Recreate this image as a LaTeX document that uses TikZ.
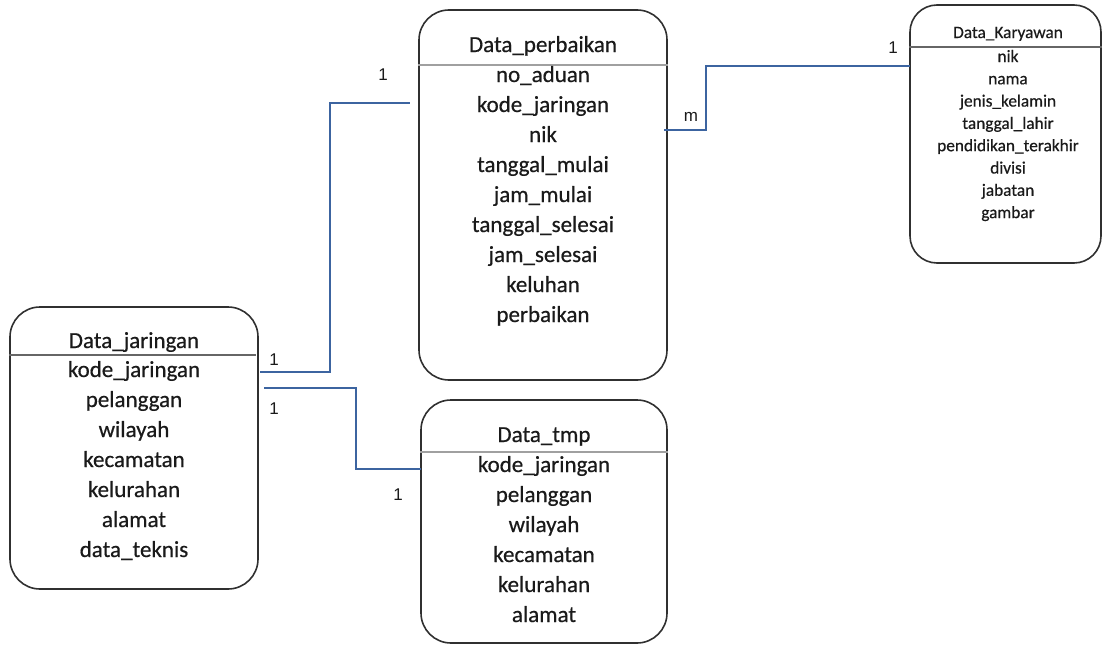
\documentclass[tikz,border=0pt]{standalone}
\usepackage{fontspec}
\setmainfont{Carlito}[FakeBold=0.5]
\newfontfamily\arialfont{Liberation Sans}
\definecolor{boxline}{HTML}{303030}
\definecolor{sepline}{HTML}{A0A0A0}
\definecolor{connblue}{HTML}{3C64A0}
\definecolor{txt}{HTML}{1A1A1A}
\begin{document}
\begin{tikzpicture}[x=1pt,y=-1pt,
  entity/.style={draw=boxline, line width=1.6pt, rounded corners=30pt, inner sep=0pt},
  sepl/.style={draw=sepline, line width=1.5pt},
  bigtxt/.style={font=\fontsize{23}{27}\selectfont, text=txt, inner sep=0pt, anchor=base},
  smalltxt/.style={font=\fontsize{17.3}{20}\selectfont, text=txt, inner sep=0pt, anchor=base},
  conn/.style={draw=connblue, line width=1.2pt},
  card/.style={font=\arialfont\fontsize{17}{20}\selectfont, text=txt, inner sep=0pt, anchor=center}]
\useasboundingbox (0,0) rectangle (1102,645);

% entity boxes
\node[entity, minimum width=248pt, minimum height=370pt] (perb) at (543,195) {};
\node[entity, minimum width=246pt, minimum height=243pt] (tmp) at (544,521.5) {};
\node[entity, minimum width=248pt, minimum height=282pt] (jar) at (134,448) {};
\node[entity, rounded corners=27pt, minimum width=191pt, minimum height=258pt] (kar) at (1005.5,134) {};

% header separators
\draw[sepl] (perb.west |- 0,65) -- (perb.east |- 0,65);
\draw[sepl] (tmp.west |- 0,452) -- (tmp.east |- 0,452);
\draw[sepl, draw=black!60] (jar.west |- 0,355) -- ([xshift=-3pt]jar.east |- 0,355);
\draw[sepl, draw=black!60] (kar.west |- 0,47) -- (kar.east |- 0,47);

% Data_perbaikan
\node[bigtxt] (perbT) at (543,52) {Data\_perbaikan};
\foreach \t [count=\i] in {no\_aduan, kode\_jaringan, nik, tanggal\_mulai, jam\_mulai, tanggal\_selesai, jam\_selesai, keluhan, perbaikan}
  \node[bigtxt] (perb\i) at (543,52+30*\i) {\t};

% Data_tmp
\node[bigtxt] (tmpT) at (544,442) {Data\_tmp};
\foreach \t [count=\i] in {kode\_jaringan, pelanggan, wilayah, kecamatan, kelurahan, alamat}
  \node[bigtxt] (tmp\i) at (544,442+30*\i) {\t};

% Data_jaringan
\node[bigtxt] (jarT) at (134,348) {Data\_jaringan};
\foreach \t [count=\i] in {kode\_jaringan, pelanggan, wilayah, kecamatan, kelurahan, alamat, data\_teknis}
  \node[bigtxt] (jar\i) at (134,347+30*\i) {\t};

% Data_Karyawan
\node[smalltxt] (karT) at (1008,38) {Data\_Karyawan};
\foreach \t [count=\i] in {nik, nama, jenis\_kelamin, tanggal\_lahir, pendidikan\_terakhir, divisi, jabatan, gambar}
  \node[smalltxt] (kar\i) at (1008,39.7+22.3*\i) {\t};

% connectors
\coordinate (a1) at (260,372);
\coordinate (a2) at (410,103);
\draw[conn] (a1) -- (330,372) -- (330,103) -- (a2);
\coordinate (b1) at (264,388);
\coordinate (b2) at (421,469);
\draw[conn] (b1) -- (356,388) -- (356,469) -- (b2);
\coordinate (c1) at (664,130);
\coordinate (c2) at (910,66);
\draw[conn] (c1) -- (706,130) -- (706,66) -- (c2);

% cardinalities
\node[card] (l1) at (383,75) {1};
\node[card] (l2) at (274,360) {1};
\node[card] (l3) at (274,409) {1};
\node[card] (l4) at (398,495) {1};
\node[card] (l5) at (691,117) {m};
\node[card] (l6) at (893,48) {1};
\end{tikzpicture}
\end{document}
